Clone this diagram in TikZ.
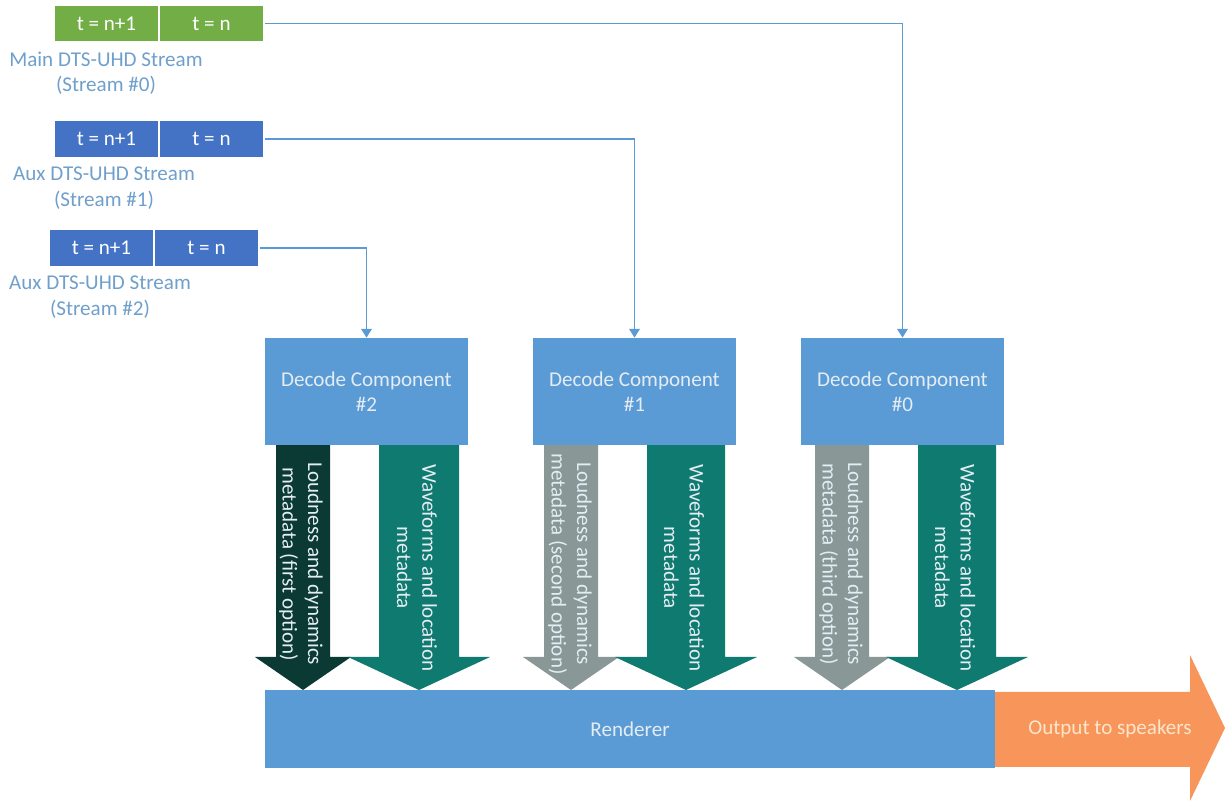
\documentclass[tikz,border=0pt]{standalone}
\usepackage{fontspec}
\setmainfont{Carlito}
\usetikzlibrary{arrows.meta}
\definecolor{boxblue}{HTML}{5B9BD5}
\definecolor{streamgreen}{HTML}{72AE45}
\definecolor{streamblue}{HTML}{4472C4}
\definecolor{labelblue}{HTML}{6F9FCB}
\definecolor{loudark}{HTML}{0B3A35}
\definecolor{loudgray}{HTML}{899896}
\definecolor{wavteal}{HTML}{0F7A6F}
\definecolor{outorange}{HTML}{F7955A}
\definecolor{lighttext}{HTML}{E4ECF4}
\definecolor{creamtext}{HTML}{FBE6CC}

\begin{document}
\begin{tikzpicture}[
  x=0.02cm, y=-0.02cm,
  font=\fontsize{12}{14.5}\selectfont,
  cell/.style={draw=white, line width=0.8pt, minimum width=2.1cm, minimum height=0.74cm, inner sep=0pt, text=white},
  green/.style={cell, fill=streamgreen},
  blue/.style={cell, fill=streamblue},
  label/.style={text=labelblue, align=center},
  decode/.style={fill=boxblue, minimum width=4.05cm, minimum height=2.14cm, align=center, text=lighttext},
  link/.style={-{Triangle[length=5pt,width=6pt]}, draw=boxblue, line width=1pt},
  atext/.style={rotate=-90, align=center, text=lighttext, inner sep=0pt}
]
  \useasboundingbox (0,0) rectangle (1225,803);

  % Streams
  \node[green] (s0a) at (106.5, 23.5) {t = n+1};
  \node[green] (s0b) at (211.5, 23.5) {t = n};
  \node[label] (lab0) at (106, 73) {Main DTS-UHD Stream\\(Stream \#0)};
  \node[blue]  (s1a) at (106.5, 139) {t = n+1};
  \node[blue]  (s1b) at (211.5, 139) {t = n};
  \node[label] (lab1) at (104, 188) {Aux DTS-UHD Stream\\(Stream \#1)};
  \node[blue]  (s2a) at (101.5, 248) {t = n+1};
  \node[blue]  (s2b) at (206.5, 248) {t = n};
  \node[label] (lab2) at (100, 297) {Aux DTS-UHD Stream\\(Stream \#2)};

  % Block arrows under the decoders
  \fill[loudark]  (276,445) -- (330,445) -- (330,657) -- (351,657) -- (303,690) -- (255,657) -- (276,657) -- cycle;
  \fill[wavteal]  (379,445) -- (459,445) -- (459,657) -- (490,657) -- (419,690) -- (348,657) -- (379,657) -- cycle;
  \fill[loudgray] (544,445) -- (598,445) -- (598,657) -- (619,657) -- (571,690) -- (523,657) -- (544,657) -- cycle;
  \fill[wavteal]  (647,445) -- (725,445) -- (725,657) -- (757,657) -- (686,690) -- (615,657) -- (647,657) -- cycle;
  \fill[loudgray] (815,445) -- (869,445) -- (869,657) -- (890,657) -- (842,690) -- (794,657) -- (815,657) -- cycle;
  \fill[wavteal]  (918,445) -- (996,445) -- (996,657) -- (1028,657) -- (957,690) -- (886,657) -- (918,657) -- cycle;

  \node[atext] (l2) at (301, 564) {Loudness and dynamics\\metadata (first option)};
  \node[atext] (w2) at (417, 568) {Waveforms and location\\metadata};
  \node[atext] (l1) at (570, 564) {Loudness and dynamics\\metadata (second option)};
  \node[atext] (w1) at (684, 568) {Waveforms and location\\metadata};
  \node[atext] (l0) at (841, 564) {Loudness and dynamics\\metadata (third option)};
  \node[atext] (w0) at (955, 568) {Waveforms and location\\metadata};

  % Decoders
  \node[decode] (dec2) at (366.5, 391.5) {Decode Component\\\#2};
  \node[decode] (dec1) at (634.5, 391.5) {Decode Component\\\#1};
  \node[decode] (dec0) at (902.5, 391.5) {Decode Component\\\#0};

  \draw[link] (s0b.east) -| (dec0.north);
  \draw[link] (s1b.east) -| (dec1.north);
  \draw[link] (s2b.east) -| (dec2.north);

  % Renderer and output
  \node[fill=boxblue, minimum width=14.6cm, minimum height=1.56cm, text=lighttext] (rend) at (630, 729) {Renderer};
  \fill[outorange] (995,692) -- (1190,692) -- (1190,655) -- (1225,728) -- (1190,801) -- (1190,767) -- (995,767) -- cycle;
  \node[text=creamtext] (out) at (1110, 729) {Output to speakers};
\end{tikzpicture}
\end{document}
